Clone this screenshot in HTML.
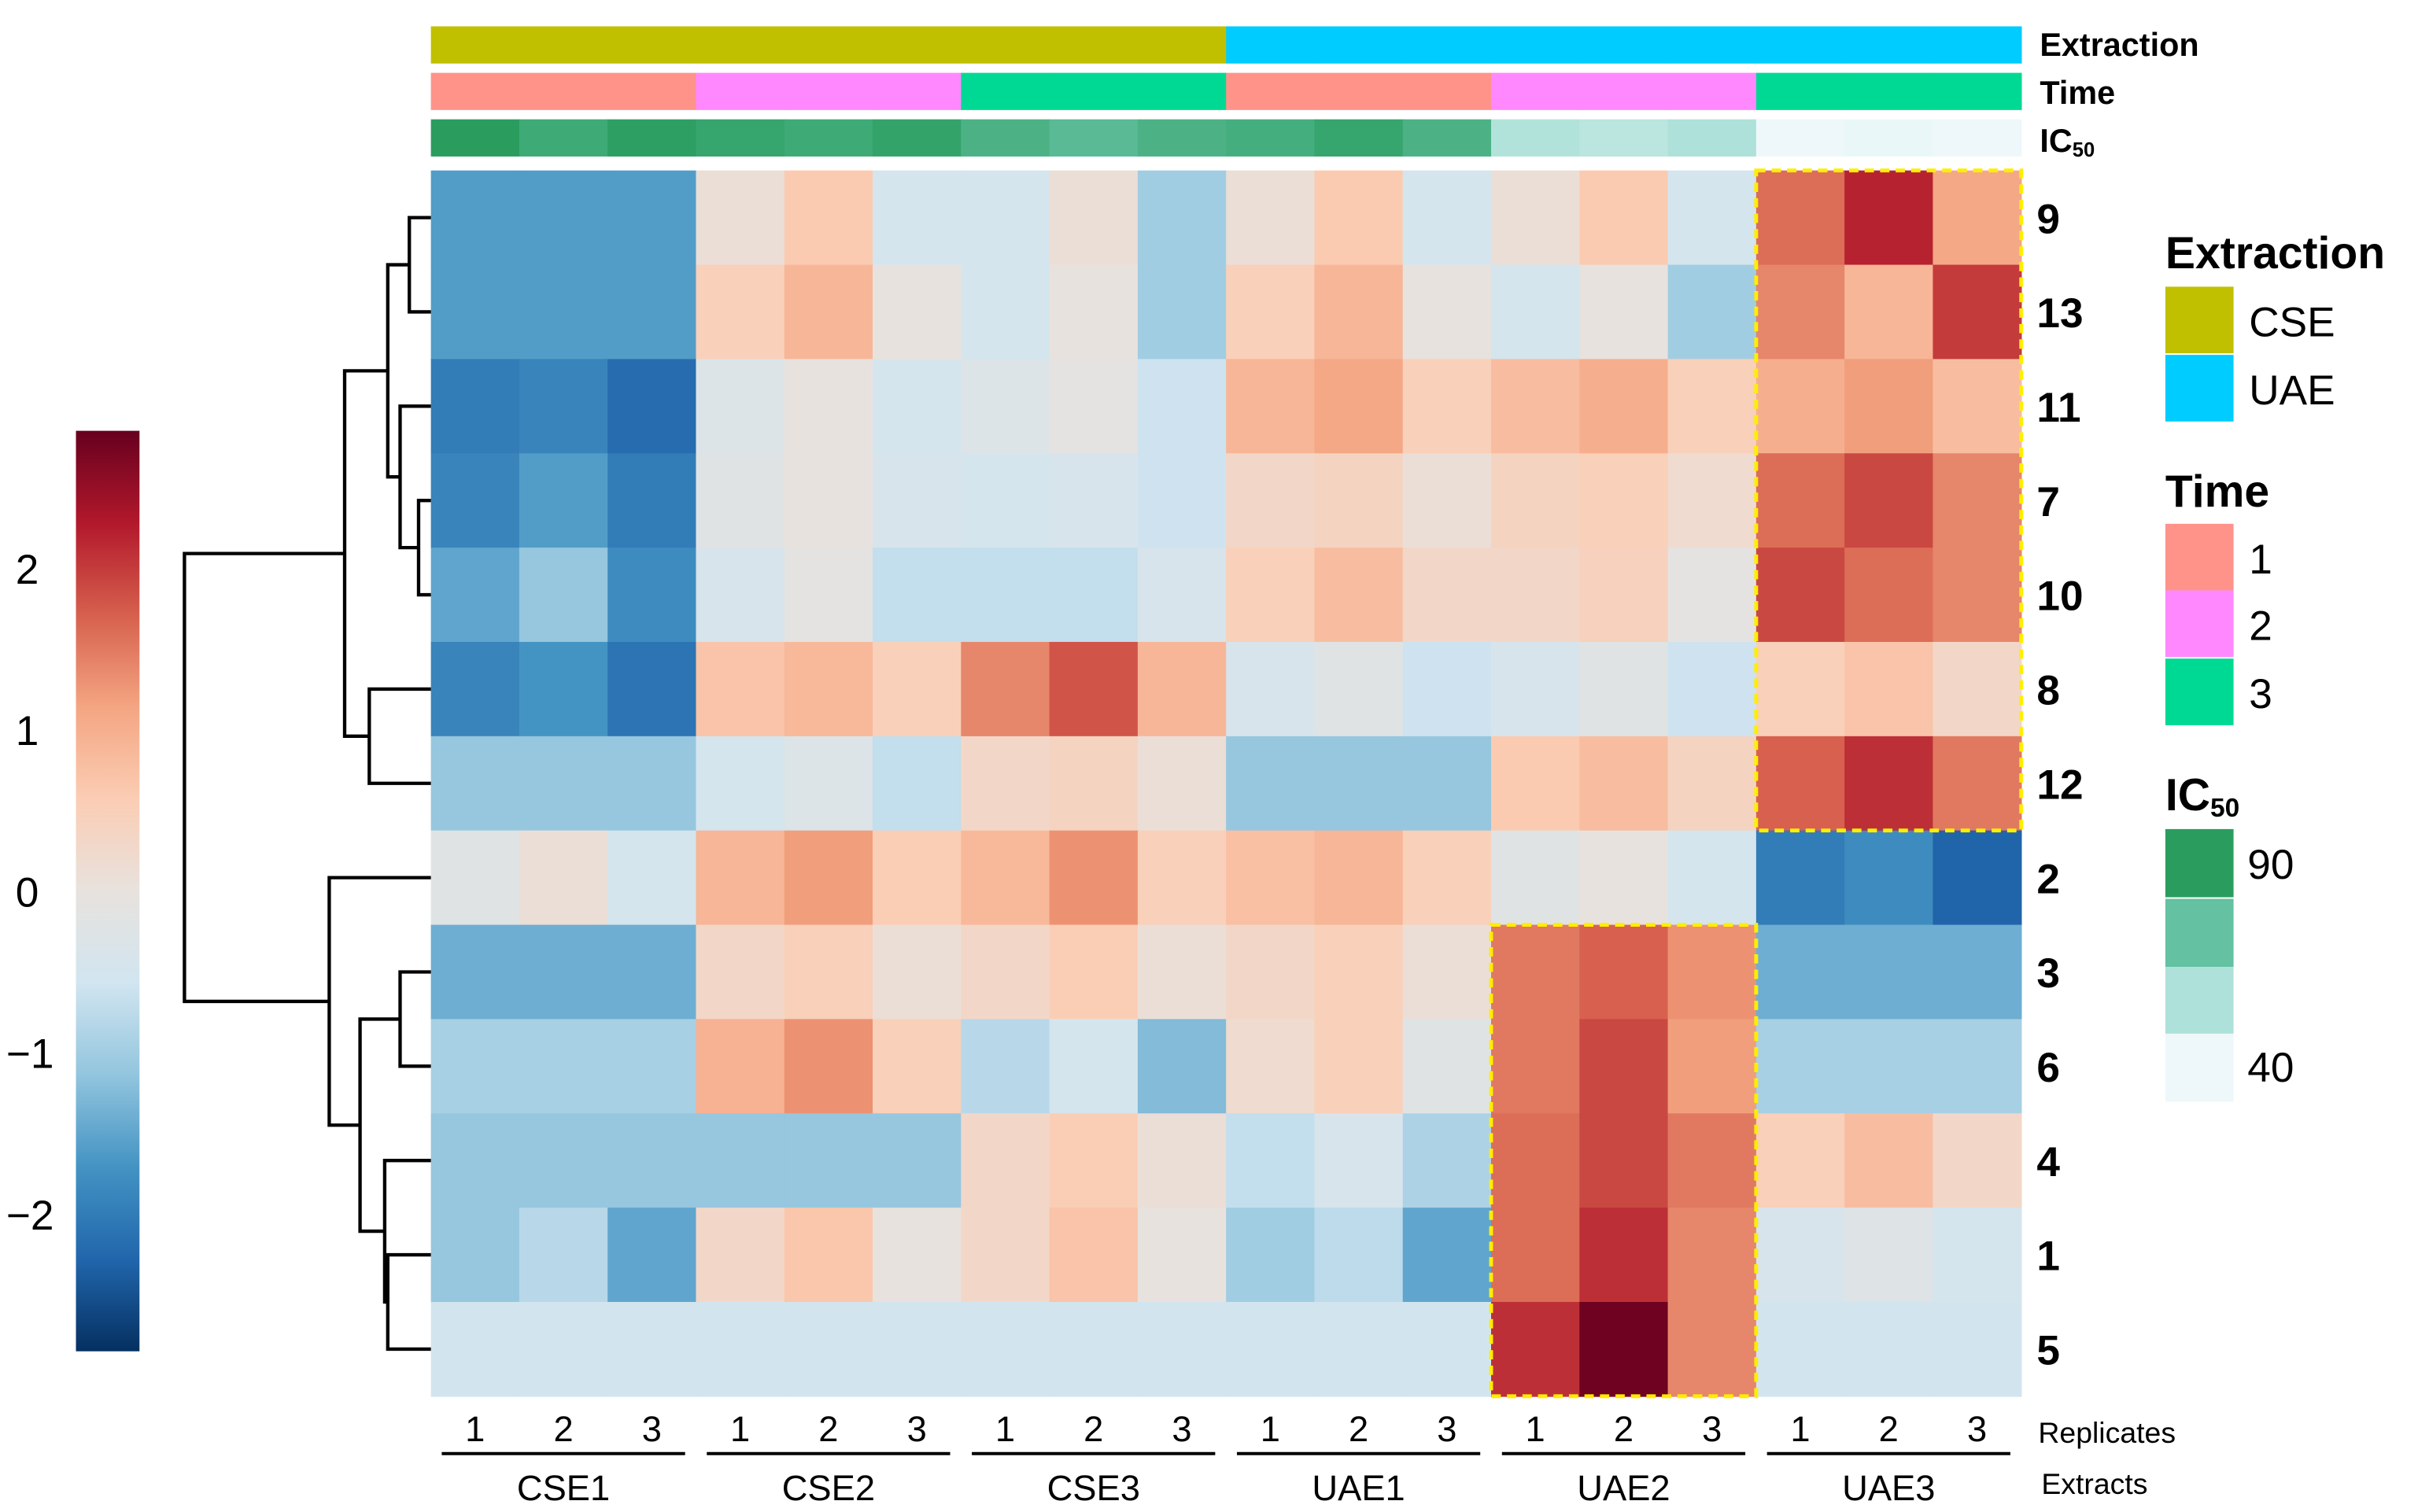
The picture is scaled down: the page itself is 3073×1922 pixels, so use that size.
<!DOCTYPE html>
<html><head><meta charset="utf-8"><style>
html,body{margin:0;padding:0;background:#fff;}
svg{display:block;font-family:"Liberation Sans",sans-serif;}
</style></head><body>
<svg id="chart" width="3073" height="1922" viewBox="0 0 1560 975.7" preserveAspectRatio="none" xmlns="http://www.w3.org/2000/svg"></svg>
<script>
const rowLabels = ["9","13","11","7","10","8","12","2","3","6","4","1","5"];
const groups = ["CSE1","CSE2","CSE3","UAE1","UAE2","UAE3"];
const replicates = ["1","2","3"];
const values = [
 [-1.6,-1.6,-1.6, 0.1,0.6,-0.5, -0.5,0.1,-1.0, 0.1,0.6,-0.5, 0.1,0.6,-0.5, 1.6,2.2,1.1],
 [-1.6,-1.6,-1.6, 0.5,0.9,0.0, -0.5,0.0,-1.0, 0.5,0.9,0.0, -0.5,0.0,-1.0, 1.4,0.9,2.0],
 [-2.0,-1.9,-2.2, -0.3,0.0,-0.5, -0.3,-0.1,-0.6, 0.9,1.1,0.5, 0.8,1.0,0.5, 1.0,1.2,0.8],
 [-1.9,-1.6,-2.0, -0.2,0.0,-0.4, -0.5,-0.4,-0.6, 0.3,0.4,0.1, 0.4,0.5,0.2, 1.6,1.9,1.4],
 [-1.5,-1.1,-1.8, -0.4,-0.1,-0.7, -0.7,-0.7,-0.4, 0.5,0.8,0.3, 0.3,0.45,-0.1, 1.9,1.6,1.4],
 [-1.9,-1.7,-2.1, 0.7,0.85,0.5, 1.4,1.8,0.9, -0.4,-0.2,-0.6, -0.4,-0.2,-0.6, 0.5,0.7,0.3],
 [-1.1,-1.1,-1.1, -0.5,-0.3,-0.7, 0.3,0.4,0.1, -1.1,-1.1,-1.1, 0.6,0.8,0.4, 1.7,2.1,1.5],
 [-0.2,0.1,-0.5, 0.9,1.2,0.55, 0.85,1.3,0.5, 0.75,0.9,0.5, -0.2,0.0,-0.5, -2.0,-1.8,-2.3],
 [-1.4,-1.4,-1.4, 0.3,0.5,0.1, 0.3,0.55,0.1, 0.3,0.5,0.1, 1.5,1.7,1.3, -1.4,-1.4,-1.4],
 [-0.95,-0.95,-0.95, 0.95,1.3,0.5, -0.8,-0.5,-1.25, 0.2,0.5,-0.2, 1.5,1.9,1.2, -0.95,-0.95,-0.95],
 [-1.1,-1.1,-1.1,-1.1,-1.1,-1.1, 0.3,0.55,0.1, -0.7,-0.4,-0.9, 1.6,1.9,1.5, 0.5,0.8,0.3],
 [-1.1,-0.8,-1.5, 0.3,0.65,0.0, 0.3,0.7,0.0, -1.0,-0.75,-1.5, 1.6,2.1,1.4, -0.4,-0.25,-0.5],
 [-0.55,-0.55,-0.55,-0.55,-0.55,-0.55,-0.55,-0.55,-0.55,-0.55,-0.55,-0.55, 2.1,2.8,1.4, -0.55,-0.55,-0.55]
];
const extraction = ["CSE","CSE","CSE","CSE","CSE","CSE","CSE","CSE","CSE","UAE","UAE","UAE","UAE","UAE","UAE","UAE","UAE","UAE"];
const timeVals = [1,1,1,2,2,2,3,3,3,1,1,1,2,2,2,3,3,3];
const ic50 = [90,84,89,86,84,87,80,76,80,82,86,80,56,54,57,40,41,40];
const colorTicks = [2,1,0,-1,-2];
// dendrogram merges: [leftNode, rightNode, height]; leaves are row indices, merged nodes are "m"+index
const merges = [
 [0,1,0.35],[3,4,0.2],[2,"m1",0.5],["m0","m2",0.7],[5,6,1.0],["m3","m4",1.4],
 [8,9,0.5],[11,12,0.7],[10,"m7",0.75],["m6","m8",1.15],[7,"m9",1.65],["m5","m10",4.0]
];

const NS="http://www.w3.org/2000/svg";
const svg=document.getElementById('chart');
function el(tag,attrs,parent){const e=document.createElementNS(NS,tag);for(const k in attrs)e.setAttribute(k,attrs[k]);(parent||svg).appendChild(e);return e;}
function txt(s,attrs,parent){const e=el('text',attrs,parent);e.textContent=s;return e;}

const X0=278,X1=1304,Y0=110,Y1=901;
const nC=18,nR=13,cw=(X1-X0)/nC,rh=(Y1-Y0)/nR;
const xCol=i=>X0+i*cw, yRow=i=>Y0+i*rh;
const stops=["#053061","#2166ac","#4393c3","#92c5de","#d1e5f0","#e8e2de","#fbcdb4","#f4a582","#d6604d","#b2182b","#67001f"];
const VMIN=-2.85,VMAX=2.85;
function hex(h){return [1,3,5].map(i=>parseInt(h.substr(i,2),16));}
function lerpStops(st,t){t=Math.max(0,Math.min(1,t))*(st.length-1);const i=Math.min(Math.floor(t),st.length-2),f=t-i;const a=hex(st[i]),b=hex(st[i+1]);return "rgb("+a.map((x,k)=>Math.round(x+(b[k]-x)*f)).join(",")+")";}
function color(v){return lerpStops(stops,(v-VMIN)/(VMAX-VMIN));}

// heatmap cells
const gCells=el('g',{});  
values.forEach((row,r)=>row.forEach((v,c)=>{
  const rect=el('rect',{x:xCol(c),y:yRow(r),width:cw+0.4,height:rh+0.4,fill:color(v)},gCells);
  
  
}));
// highlight boxes
const hb1=el('rect',{x:xCol(15),y:yRow(0),width:3*cw,height:7*rh,fill:"none",stroke:"#ffee00","stroke-width":2.5,"stroke-dasharray":"6,4"});
 
const hb2=el('rect',{x:xCol(12),y:yRow(8),width:3*cw,height:5*rh,fill:"none",stroke:"#ffee00","stroke-width":2.5,"stroke-dasharray":"6,4"});
 

// annotation bars
const extColors={CSE:"#c0c000",UAE:"#00ccff"};
const timeColors={1:"#ff938a",2:"#ff88ff",3:"#00d993"};
const icStops=["#eef8fa","#b0e2da","#62c0a0","#2a9d5e"];
function icColor(v){return lerpStops(icStops,(v-40)/50);}
extraction.forEach((e,c)=>{const r=el('rect',{x:xCol(c),y:17,width:cw+0.4,height:24,fill:extColors[e]});});
timeVals.forEach((t,c)=>{const r=el('rect',{x:xCol(c),y:47,width:cw+0.4,height:24,fill:timeColors[t]});});
ic50.forEach((v,c)=>{const r=el('rect',{x:xCol(c),y:77,width:cw+0.4,height:24,fill:icColor(v)});});
let t;
t=txt("Extraction",{x:1316,y:36,"font-size":21,"font-weight":"bold"});
t=txt("Time",{x:1316,y:67,"font-size":21,"font-weight":"bold"});
t=el('text',{x:1316,y:98,"font-size":21,"font-weight":"bold"});t.innerHTML='IC<tspan font-size="13" dy="3">50</tspan>';

// row labels
rowLabels.forEach((l,r)=>{const e=txt(l,{x:1314,y:yRow(r)+rh/2+10,"font-size":27,"font-weight":"bold"});});

// column labels
for(let c=0;c<nC;c++){const e=txt(replicates[c%3],{x:xCol(c)+cw/2,y:930,"font-size":23,"text-anchor":"middle"});}
groups.forEach((g,i)=>{
  const l=el('line',{x1:xCol(i*3)+7,x2:xCol(i*3+3)-7,y1:938,y2:938,stroke:"#000","stroke-width":2});
  const e=txt(g,{x:xCol(i*3)+1.5*cw,y:968,"font-size":23,"text-anchor":"middle"});
});
t=txt("Replicates",{x:1315,y:931,"font-size":19});
t=txt("Extracts",{x:1317,y:964,"font-size":19});

// dendrogram
const DX=278, hScale=(278-119)/4.0;
const gD=el('g',{fill:"none",stroke:"#000","stroke-width":2.2});  
const nodes={};
function pos(n){if(typeof n==="number")return {y:yRow(n)+rh/2,x:DX};return nodes[n];}
merges.forEach((m,i)=>{
  const a=pos(m[0]),b=pos(m[1]),x=DX-m[2]*hScale;
  const p=el('path',{d:`M${a.x},${a.y}H${x}V${b.y}H${b.x}`},gD);
  
  nodes["m"+i]={x:x,y:(a.y+b.y)/2};
});

// colorbar
const CB={x:49,w:41,y0:278,y1:872};
const defs=el('defs',{});
const lg=el('linearGradient',{id:"cbg",x1:0,y1:1,x2:0,y2:0},defs);
stops.forEach((s,i)=>el('stop',{offset:(i/(stops.length-1)),"stop-color":s},lg));
t=el('rect',{x:CB.x,y:CB.y0,width:CB.w,height:CB.y1-CB.y0,fill:"url(#cbg)"});
const yCB=v=>CB.y1-(v-VMIN)/(VMAX-VMIN)*(CB.y1-CB.y0);
colorTicks.forEach(v=>{const e=txt(v<0?"\u2212"+Math.abs(v):String(v),{x:v<0?4:10,y:yCB(v)+10,"font-size":27});});

// legends
function leg(name,s,attrs){const e=txt(s,attrs);return e;}
leg('legend-extraction-title',"Extraction",{x:1397,y:173,"font-size":29,"font-weight":"bold"});
[["CSE",185],["UAE",229]].forEach(([k,y])=>{const r=el('rect',{x:1397,y:y,width:44,height:43,fill:extColors[k]});leg('legend-label-'+k.toLowerCase(),k,{x:1451,y:y+32,"font-size":27});});
leg('legend-time-title',"Time",{x:1397,y:327,"font-size":29,"font-weight":"bold"});
[[1,338],[2,381],[3,425]].forEach(([k,y])=>{const r=el('rect',{x:1397,y:y,width:44,height:43,fill:timeColors[k]});leg('legend-label-time-'+k,String(k),{x:1451,y:y+32,"font-size":27});});
t=el('text',{x:1397,y:523,"font-size":29,"font-weight":"bold"});t.innerHTML='IC<tspan font-size="17" dy="4">50</tspan>';
[[90,535],[73,580],[57,624],[40,667]].forEach(([v,y])=>{const r=el('rect',{x:1397,y:y,width:44,height:44,fill:icColor(v)});});
leg('legend-label-ic50-90',"90",{x:1450,y:567,"font-size":27});
leg('legend-label-ic50-40',"40",{x:1450,y:698,"font-size":27});
</script>
</body></html>
